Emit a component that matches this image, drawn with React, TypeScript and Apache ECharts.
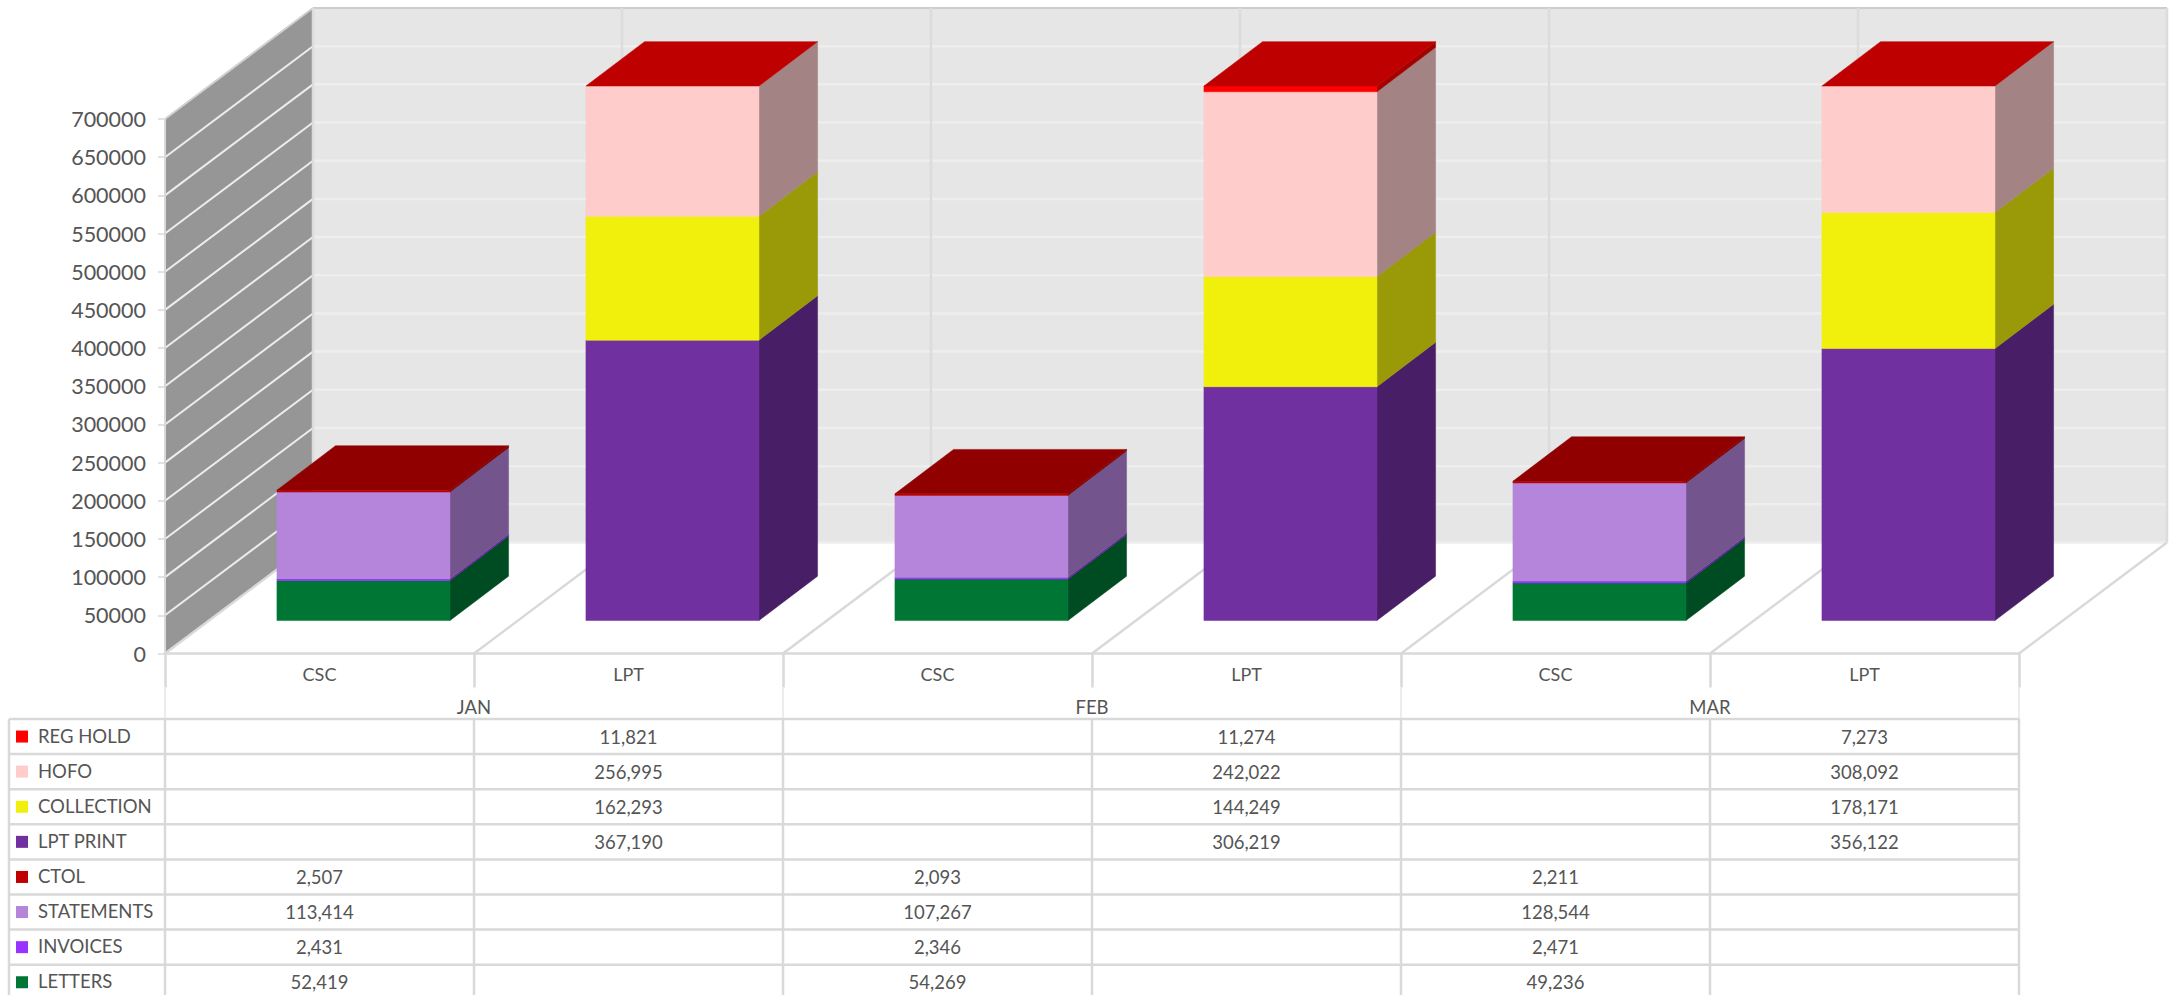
import React, { useEffect, useRef } from "react";
import * as echarts from "echarts";

const categories = ["CSC", "LPT", "CSC", "LPT", "CSC", "LPT"];
const months = ["JAN", "FEB", "MAR"];
const AXIS_MAX = 700000;
const AXIS_STEP = 50000;

// Stack order, bottom to top
const letters = [52419, null, 54269, null, 49236, null];
const invoices = [2431, null, 2346, null, 2471, null];
const statements = [113414, null, 107267, null, 128544, null];
const ctol = [2507, null, 2093, null, 2211, null];
const lptPrint = [null, 367190, null, 306219, null, 356122];
const collection = [null, 162293, null, 144249, null, 178171];
const hofo = [null, 256995, null, 242022, null, 308092];
const regHold = [null, 11821, null, 11274, null, 7273];

const stack = [
  { name: "LETTERS", values: letters, color: "#007635" },
  { name: "INVOICES", values: invoices, color: "#9933FF" },
  { name: "STATEMENTS", values: statements, color: "#B584DB" },
  { name: "CTOL", values: ctol, color: "#C00000" },
  { name: "LPT PRINT", values: lptPrint, color: "#7030A0" },
  { name: "COLLECTION", values: collection, color: "#F0F00C" },
  { name: "HOFO", values: hofo, color: "#FFCCCC" },
  { name: "REG HOLD", values: regHold, color: "#FF0000" },
];

// Oblique projection of the 3D box
const WALL_DX = 148;
const WALL_DY = -111;
const BAR_NEAR = 0.297;
const BAR_FAR = 0.697;
const BAR_WIDTH = 0.56;

// Plot and table geometry
const PLOT_LEFT = 165;
const PLOT_RIGHT = 2019;
const PLOT_TOP = 119;
const PLOT_BOTTOM = 653.5;
const TABLE_LEFT = 9;
const TABLE_TOP = 719;
const ROW_H = 35.1;
const PAGE_W = 2172;
const PAGE_H = 995;

const TEXT = "#555555";
const RULE = "#D9D9D9";
const FONT = "Lato";

function shade(hex: string, k: number) {
  const n = parseInt(hex.slice(1), 16);
  const c = [(n >> 16) & 255, (n >> 8) & 255, n & 255].map((v) => Math.round(v * k));
  return `rgb(${c[0]},${c[1]},${c[2]})`;
}

function segment(x1: number, y1: number, x2: number, y2: number, stroke: string, lineWidth: number) {
  return { type: "line", shape: { x1, y1, x2, y2 }, style: { stroke, lineWidth } };
}

function poly(points: number[][], fill: string) {
  return {
    type: "polygon",
    shape: { points },
    style: { fill, stroke: fill, lineWidth: 0.5 },
  };
}

// Back wall, side wall and floor, with gridlines following the value scale
function renderWalls(_: any, api: any) {
  const band = api.size([1, 0])[0];
  const left = api.coord([0, 0])[0] - band / 2;
  const right = left + band * categories.length;
  const y0 = api.coord([0, 0])[1];
  const yTop = api.coord([0, AXIS_MAX])[1];
  const kids: any[] = [
    poly(
      [[left + WALL_DX, yTop + WALL_DY], [right + WALL_DX, yTop + WALL_DY], [right + WALL_DX, y0 + WALL_DY], [left + WALL_DX, y0 + WALL_DY]],
      "#E6E6E6",
    ),
    poly([[left, y0], [left + WALL_DX, y0 + WALL_DY], [left + WALL_DX, yTop + WALL_DY], [left, yTop]], "#969696"),
  ];
  for (let v = 0; v <= AXIS_MAX; v += AXIS_STEP) {
    const y = api.coord([0, v])[1];
    if (v > 0 && v < AXIS_MAX) {
      kids.push(segment(left, y, left + WALL_DX, y + WALL_DY, "#EDEDED", 2));
    }
    if (v < AXIS_MAX) {
      kids.push(segment(left + WALL_DX, y + WALL_DY, right + WALL_DX, y + WALL_DY, "#EEEEEE", 2.5));
    }
  }
  kids.push(segment(left, yTop, left + WALL_DX, yTop + WALL_DY, "#D0D0D0", 2));
  kids.push(segment(left + WALL_DX, yTop + WALL_DY, right + WALL_DX, yTop + WALL_DY, "#CCCCCC", 2));
  for (let i = 0; i <= categories.length; i++) {
    const x = left + band * i;
    kids.push(segment(x + WALL_DX, yTop + WALL_DY, x + WALL_DX, y0 + WALL_DY, "#DCDCDC", 2.5));
    kids.push(segment(x, y0, x + WALL_DX, y0 + WALL_DY, RULE, 2.5));
  }
  return { type: "group", children: kids };
}

// Columns that run past the axis maximum are cut at it, as the axis allows no more
function makeBarRenderer(s: (typeof stack)[number], index: number) {
  return function renderBar(params: any, api: any) {
    const cat = api.value(0);
    const raw = s.values[cat];
    if (raw == null) return null;
    const below = stack.slice(0, index).reduce((sum, o) => sum + (o.values[cat] ?? 0), 0);
    const isTop = !stack.slice(index + 1).some((o) => o.values[cat] != null);
    const v0 = Math.min(below, AXIS_MAX);
    const v1 = Math.min(below + raw, AXIS_MAX);
    const band = api.size([1, 0])[0];
    const xc = api.coord([cat, 0])[0];
    const yA = api.coord([cat, v0])[1];
    const yB = api.coord([cat, v1])[1];
    const nx = xc - (band * BAR_WIDTH) / 2 + WALL_DX * BAR_NEAR;
    const w = band * BAR_WIDTH;
    const ny = WALL_DY * BAR_NEAR;
    const fx = WALL_DX * (BAR_FAR - BAR_NEAR) * 0.99;
    const fy = WALL_DY * (BAR_FAR - BAR_NEAR);
    const kids: any[] = [];
    if (v1 > v0) {
      kids.push(poly([[nx + w, yA + ny], [nx + w + fx, yA + ny + fy], [nx + w + fx, yB + ny + fy], [nx + w, yB + ny]], shade(s.color, 0.64)));
      kids.push(poly([[nx, yA + ny], [nx + w, yA + ny], [nx + w, yB + ny], [nx, yB + ny]], s.color));
    }
    if (isTop) {
      kids.push(poly([[nx, yB + ny], [nx + w, yB + ny], [nx + w + fx, yB + ny + fy], [nx + fx, yB + ny + fy]], shade(s.color, 0.75)));
    }
    return { type: "group", children: kids };
  };
}

function label(text: string, x: number, y: number, align: string) {
  return {
    type: "text",
    style: { text, x, y, fill: TEXT, fontFamily: FONT, fontSize: 18.5, align, verticalAlign: "middle" },
  };
}

// Data table under the axis: month row, then one row per stacked series
function renderTable(_: any, api: any) {
  const band = api.size([1, 0])[0];
  const left = api.coord([0, 0])[0] - band / 2;
  const right = left + band * categories.length;
  const kids: any[] = [];
  const rows = [...stack].reverse();
  months.forEach((m, i) => {
    kids.push(label(m, left + band * (2 * i + 1), 707, "center"));
    const x = left + band * 2 * i;
    kids.push(segment(x, PLOT_BOTTOM + 34, x, TABLE_TOP, "#ECECEC", 2));
  });
  kids.push(segment(right, PLOT_BOTTOM + 34, right, TABLE_TOP, "#ECECEC", 2));
  for (let i = 0; i <= rows.length; i++) {
    const y = TABLE_TOP + ROW_H * i;
    kids.push(segment(TABLE_LEFT, y, right, y, RULE, 2.5));
  }
  kids.push(segment(TABLE_LEFT, TABLE_TOP, TABLE_LEFT, PAGE_H, RULE, 2.5));
  for (let c = 0; c <= categories.length; c++) {
    const x = left + band * c;
    kids.push(segment(x, TABLE_TOP, x, PAGE_H, RULE, 2.5));
  }
  rows.forEach((s, r) => {
    const cy = TABLE_TOP + ROW_H * (r + 0.5);
    kids.push({
      type: "rect",
      shape: { x: 16, y: cy - 6, width: 12, height: 12 },
      style: { fill: s.color },
    });
    kids.push(label(s.name, 38, cy - 1, "left"));
    s.values.forEach((v, c) => {
      if (v != null) {
        kids.push(label(v.toLocaleString("en-US"), left + band * (c + 0.5), cy, "center"));
      }
    });
  });
  return { type: "group", children: kids };
}

export default function App() {
  const ref = useRef<HTMLDivElement>(null);

  useEffect(() => {
    document.body.style.margin = "0";
    document.body.style.overflow = "hidden";
    const chart = echarts.init(ref.current!, undefined, { renderer: "svg" });
    const catIndex = categories.map((_, i) => [i]);
    chart.setOption({
      animation: false,
      backgroundColor: "#FFFFFF",
      grid: {
        left: PLOT_LEFT,
        right: PAGE_W - PLOT_RIGHT,
        top: PLOT_TOP,
        bottom: PAGE_H - PLOT_BOTTOM,
        containLabel: false,
      },
      xAxis: {
        type: "category",
        data: categories,
        z: 3,
        axisLine: { lineStyle: { color: RULE, width: 2.5 } },
        axisTick: { show: true, length: 34, lineStyle: { color: RULE, width: 2.5 } },
        axisLabel: { color: TEXT, fontFamily: FONT, fontSize: 18, margin: 11 },
        splitLine: { show: false },
      },
      yAxis: {
        type: "value",
        min: 0,
        max: AXIS_MAX,
        interval: AXIS_STEP,
        z: 3,
        axisLine: { show: true, lineStyle: { color: RULE, width: 2 } },
        axisTick: { show: true, length: 7, lineStyle: { color: RULE, width: 1.5 } },
        axisLabel: {
          color: TEXT,
          fontFamily: FONT,
          fontSize: 21.5,
          margin: 19,
          formatter: (v: number) => String(v),
        },
        splitLine: { show: false },
      },
      series: [
        { type: "custom", name: "walls", z: 1, silent: true, data: [[0]], renderItem: renderWalls },
        ...stack.map((s, i) => ({
          type: "custom",
          name: s.name,
          z: 2,
          encode: { x: 0 },
          data: catIndex,
          renderItem: makeBarRenderer(s, i),
        })),
        { type: "custom", name: "table", z: 4, silent: true, data: [[0]], renderItem: renderTable },
      ],
    });
    return () => chart.dispose();
  }, []);

  return <div ref={ref} style={{ width: PAGE_W, height: PAGE_H }} />;
}
